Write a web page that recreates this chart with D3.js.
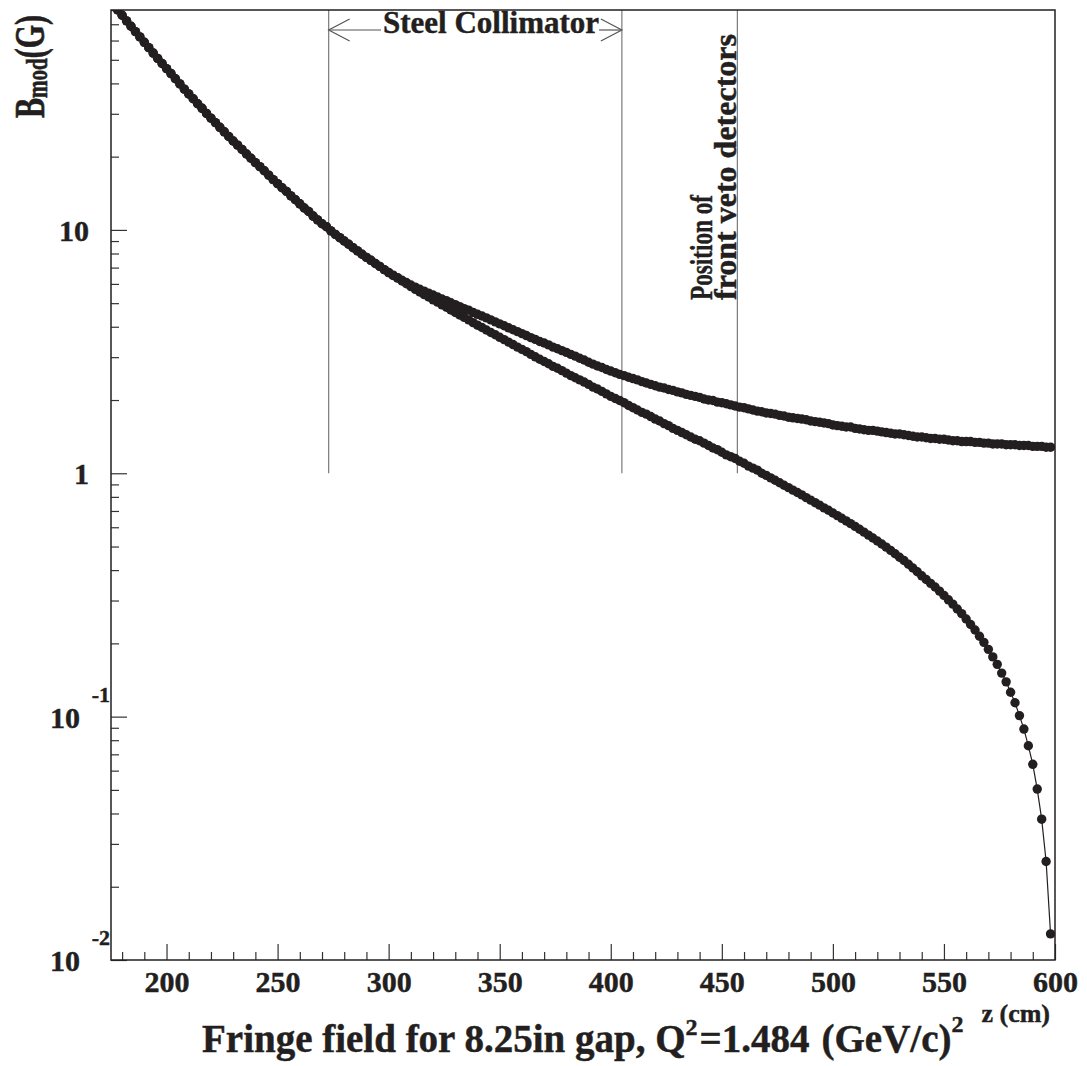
<!DOCTYPE html>
<html><head><meta charset="utf-8">
<script src="https://cdn.jsdelivr.net/npm/d3@7"></script>
<style>
html,body{margin:0;padding:0;background:#fff;}
svg{display:block;}
text{font-family:"Liberation Serif","Times New Roman",serif;font-weight:bold;fill:#231f20;stroke:#231f20;stroke-width:0.45px;}
</style></head><body>
<svg id="chart" width="1087" height="1066"></svg>
<script>
// ---- data ----
const zStart = 176, zStep = 2;           // z grid in cm: 176, 178, ..., 598
const bUpper = [
84.5,80.2,76.2,72.3,68.7,65.3,62.1,59.0,56.1,53.3,
50.7,48.3,46.0,43.9,41.8,39.8,37.9,36.2,34.6,33.0,
31.6,30.1,28.8,27.6,26.4,25.3,24.2,23.2,22.3,21.4,
20.5,19.7,18.9,18.2,17.5,16.8,16.1,15.5,14.9,14.4,
13.8,13.3,12.8,12.3,11.9,11.4,11.0,10.6,10.3,9.91,
9.59,9.29,9.00,8.73,8.45,8.20,7.94,7.71,7.50,7.28,
7.08,6.87,6.68,6.52,6.37,6.21,6.08,5.94,5.82,5.70,
5.60,5.50,5.40,5.30,5.20,5.12,5.02,4.93,4.84,4.75,
4.68,4.58,4.50,4.43,4.35,4.27,4.19,4.11,4.04,3.96,
3.89,3.82,3.75,3.68,3.61,3.55,3.48,3.43,3.37,3.30,
3.25,3.19,3.14,3.08,3.03,2.97,2.92,2.86,2.81,2.76,
2.72,2.67,2.63,2.59,2.55,2.52,2.48,2.45,2.42,2.38,
2.35,2.32,2.29,2.26,2.24,2.21,2.19,2.16,2.14,2.11,
2.09,2.07,2.05,2.02,2.00,1.99,1.96,1.95,1.93,1.91,
1.89,1.87,1.86,1.84,1.82,1.80,1.79,1.77,1.76,1.75,
1.73,1.72,1.70,1.69,1.68,1.67,1.66,1.64,1.63,1.62,
1.61,1.60,1.58,1.57,1.56,1.55,1.55,1.53,1.52,1.51,
1.50,1.50,1.49,1.48,1.47,1.46,1.45,1.45,1.44,1.43,
1.42,1.41,1.41,1.40,1.39,1.39,1.38,1.38,1.37,1.36,
1.36,1.35,1.35,1.35,1.34,1.34,1.33,1.33,1.32,1.32,
1.32,1.31,1.31,1.31,1.30,1.30,1.30,1.29,1.29,1.29,
1.28,1.28
];
const bLower = [
84.5,80.2,76.2,72.3,68.7,65.3,62.1,59.0,56.1,53.3,
50.7,48.3,46.0,43.9,41.8,39.8,37.9,36.2,34.6,33.0,
31.6,30.1,28.8,27.6,26.4,25.3,24.2,23.2,22.3,21.4,
20.5,19.7,18.9,18.2,17.5,16.8,16.1,15.5,14.9,14.4,
13.8,13.3,12.8,12.3,11.9,11.4,11.0,10.6,10.3,9.91,
9.59,9.29,9.00,8.73,8.45,8.20,7.94,7.71,7.50,7.28,
7.08,6.87,6.68,6.50,6.34,6.17,6.01,5.85,5.70,5.56,
5.42,5.30,5.16,
5.05,4.92,4.81,4.69,4.58,4.47,4.37,4.27,4.16,4.06,
3.97,3.88,3.79,3.71,3.62,3.54,3.46,3.38,3.30,3.23,
3.16,3.08,3.01,2.94,2.88,2.82,2.75,2.70,2.64,2.58,
2.52,2.47,2.42,2.37,2.32,2.26,2.22,2.17,2.12,2.07,
2.03,1.99,1.95,1.90,1.86,1.82,1.78,1.75,1.71,1.67,
1.64,1.60,1.57,1.53,1.50,1.47,1.44,1.41,1.38,1.36,
1.33,1.30,1.27,1.25,1.22,1.19,1.17,1.15,1.12,1.10,
1.07,1.05,1.03,1.00,0.980,0.957,0.936,0.914,0.893,0.873,
0.853,0.834,0.815,0.794,0.776,0.757,0.740,0.721,0.705,0.687,
0.670,0.653,0.637,0.621,0.605,0.589,0.573,0.557,0.542,0.527,
0.512,0.497,0.482,0.467,0.452,0.438,0.423,0.408,0.394,0.379,
0.366,0.353,0.341,0.328,0.315,0.302,0.290,0.277,0.265,0.252,
0.239,0.227,0.214,0.202,0.189,0.176,0.164,0.151,0.139,0.126,
0.114,0.101,0.0889,0.0759,0.0637,0.0504,0.0379,0.0254,0.0128
];
const xDomain = [175, 600];
const yDomain = [0.01, 80.1];
const xMajorTicks = [200, 250, 300, 350, 400, 450, 500, 550, 600];
const xMinorTicks = [180,190,210,220,230,240,260,270,280,290,310,320,330,340,360,370,380,390,
                     410,420,430,440,460,470,480,490,510,520,530,540,560,570,580,590];
const yDecades = [0.01, 0.1, 1, 10];
const yMinorTicks = [0.02,0.03,0.04,0.05,0.06,0.07,0.08,0.09,0.2,0.3,0.4,0.5,0.6,0.7,0.8,0.9,
                     2,3,4,5,6,7,8,9,20,30,40,50,60,70,80];
const yTickLabels = [
  {v: 10,   base: "10", exp: ""},
  {v: 1,    base: "1",  exp: ""},
  {v: 0.1,  base: "10", exp: "-1"},
  {v: 0.01, base: "10", exp: "-2"}
];
const markerZ = [273, 405, 457];        // vertical marker lines
const markerBottomB = 1;                // they run from B = 1 to the top
const collimatorZ = [273, 405];

// ---- drawing ----
const svg = d3.select("#chart");
const x = d3.scaleLinear().domain(xDomain).range([111, 1055]);
const y = d3.scaleLog().domain(yDomain).range([960, 10]);
const [x0, x1] = x.range();
const [yb, yt] = y.range();
const ink = "#231f20";

svg.append("defs").append("clipPath").attr("id", "clip")
  .append("rect").attr("x", x0).attr("y", yt).attr("width", x1 - x0).attr("height", yb - yt);

// marker lines
svg.append("g").selectAll("line").data(markerZ).join("line")
  .attr("x1", d => x(d)).attr("x2", d => x(d))
  .attr("y1", y(markerBottomB)).attr("y2", yt)
  .attr("stroke", "#7a7a7a").attr("stroke-width", 1.2);

// axes ticks
function styleAxis(g) {
  g.select(".domain").remove();
  g.selectAll(".tick line").attr("stroke", "#333").attr("stroke-width", 1.2);
  g.attr("font-family", null).attr("font-size", null);
}
const gxMinor = svg.append("g").attr("transform", `translate(0,${yb})`)
  .call(d3.axisBottom(x).tickValues(xMinorTicks).tickSize(-8).tickFormat(""));
styleAxis(gxMinor);
const gxMajor = svg.append("g").attr("transform", `translate(0,${yb})`)
  .call(d3.axisBottom(x).tickValues(xMajorTicks).tickSize(-16).tickPadding(11).tickFormat(d3.format("d")));
styleAxis(gxMajor);
gxMajor.selectAll("text").style("font-size", "30px").attr("fill", ink);

const gyMinor = svg.append("g").attr("transform", `translate(${x0},0)`)
  .call(d3.axisLeft(y).tickValues(yMinorTicks).tickSize(-8).tickFormat(""));
styleAxis(gyMinor);
const gyMajor = svg.append("g").attr("transform", `translate(${x0},0)`)
  .call(d3.axisLeft(y).tickValues(yDecades).tickSize(-16).tickFormat(""));
styleAxis(gyMajor);

// y tick labels
const yl = svg.append("g");
yTickLabels.forEach(t => {
  if (!t.exp) {
    yl.append("text").attr("x", x0 - 22).attr("y", y(t.v) + 11)
      .attr("text-anchor", "end").style("font-size", "30px").text(t.base);
  } else {
    yl.append("text").attr("x", x0 - 31).attr("y", y(t.v) + 11)
      .attr("text-anchor", "end").style("font-size", "30px").text(t.base);
    yl.append("text").attr("x", x0 - 1).attr("y", y(t.v) - 15)
      .attr("text-anchor", "end").style("font-size", "22px").text(t.exp);
  }
});

// frame
svg.append("rect").attr("x", x0).attr("y", yt).attr("width", x1 - x0).attr("height", yb - yt)
  .attr("fill", "none").attr("stroke", ink).attr("stroke-width", 1.5);

// data
const upper = bUpper.map((b, i) => ({z: zStart + i * zStep, b}));
const lower = bLower.map((b, i) => ({z: zStart + i * zStep, b}));
const line = d3.line().x(d => x(d.z)).y(d => y(d.b));
const plot = svg.append("g").attr("clip-path", "url(#clip)");
[upper, lower].forEach(series => {
  plot.append("path").datum(series).attr("d", line)
    .attr("fill", "none").attr("stroke", ink).attr("stroke-width", 1.2);
  plot.append("g").selectAll("circle").data(series).join("circle")
    .attr("cx", d => x(d.z)).attr("cy", d => y(d.b)).attr("r", 4.7).attr("fill", ink);
});

// collimator arrow + label
const ay = 30;
const ax0 = x(collimatorZ[0]), ax1 = x(collimatorZ[1]);
const tx0 = 383;
const colText = svg.append("text").attr("x", tx0).attr("y", 33)
  .style("font-size", "31px").text("Steel Collimator");
const tl = colText.node().getComputedTextLength();
const ag = svg.append("g").attr("stroke", "#555").attr("stroke-width", 1.2).attr("fill", "none");
ag.append("line").attr("x1", ax0).attr("x2", tx0 - 2).attr("y1", ay).attr("y2", ay);
ag.append("line").attr("x1", tx0 + tl).attr("x2", ax1).attr("y1", ay).attr("y2", ay);
ag.append("path").attr("d", `M${ax0 + 21},${ay - 11}L${ax0},${ay}L${ax0 + 21},${ay + 11}`);
ag.append("path").attr("d", `M${ax1 - 21},${ay - 11}L${ax1},${ay}L${ax1 - 21},${ay + 11}`);

// veto detector label
svg.append("text").attr("transform", "translate(712,300) rotate(-90)")
  .attr("textLength", 105).attr("lengthAdjust", "spacingAndGlyphs")
  .style("font-size", "32px").text("Position of");
svg.append("text").attr("transform", "translate(736,300) rotate(-90)")
  .style("font-size", "32px").text("front veto detectors");

// y axis title
const yt1 = svg.append("text").attr("transform", "translate(44,118) rotate(-90) scale(1,1.4)")
  .style("font-size", "30px");
yt1.append("tspan").text("B");
yt1.append("tspan").attr("dy", 2).style("font-size", "21px").text("mod");
yt1.append("tspan").attr("dy", -2).text("(G)");

// x axis title
const tt = svg.append("text").attr("x", 202).attr("y", 1052).style("font-size", "39px");
tt.append("tspan").text("Fringe field for 8.25in gap, Q");
tt.append("tspan").attr("dy", -17).style("font-size", "24px").text("2");
tt.append("tspan").attr("dy", 17).attr("dx", 2).text("=1.484");
tt.append("tspan").attr("dx", 12).text("(GeV/c)");
tt.append("tspan").attr("dy", -20).style("font-size", "24px").text("2");
svg.append("text").attr("x", 1050).attr("y", 1022).attr("text-anchor", "end")
  .style("font-size", "26px").text("z (cm)");
</script>
</body></html>
